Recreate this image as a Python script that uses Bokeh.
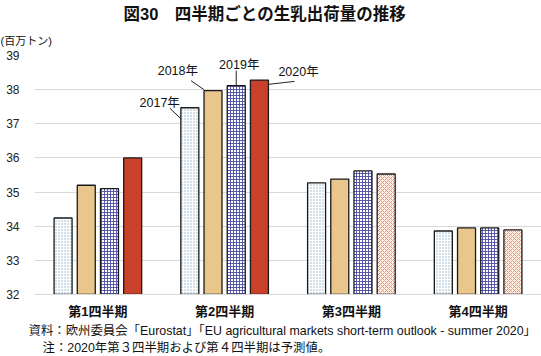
from bokeh.plotting import figure
from bokeh.models import Label, FixedTicker, Range1d, Title
from bokeh.embed import file_html
from bokeh.resources import INLINE

# ---- data ----
quarters = ["第1四半期", "第2四半期", "第3四半期", "第4四半期"]
years = ["2017年", "2018年", "2019年", "2020年"]
v2017 = [34.24, 37.47, 35.27, 33.86]
v2018 = [35.20, 37.97, 35.38, 33.95]
v2019 = [35.10, 38.12, 35.62, 33.95]
v2020 = [36.00, 38.28, 35.53, 33.89]
forecast2020 = [False, False, True, True]
y_ticks = [32, 33, 34, 35, 36, 37, 38, 39]

title_text = "図30　四半期ごとの生乳出荷量の推移"
unit_text = "(百万トン)"
note1 = "資料：欧州委員会「Eurostat」「EU agricultural markets short-term outlook - summer 2020」"
note2 = "注：2020年第３四半期および第４四半期は予測値。"

FONT = "Liberation Sans, Noto Sans CJK JP"

# ---- layout helpers ----
offsets = [-0.2745, -0.0915, 0.0915, 0.2745]
bw = 0.142
px = 1 / 126.75   # data units per pixel (x)
py = 1 / 34.3     # data units per pixel (y)

p = figure(width=541, height=356, x_range=Range1d(0, 4), y_range=Range1d(32, 39),
           output_backend="svg", toolbar_location=None,
           min_border_left=34, min_border_right=0, min_border_top=54, min_border_bottom=62)
p.outline_line_color = None
p.background_fill_color = "white"
p.border_fill_color = "white"
p.xgrid.grid_line_color = None
p.ygrid.grid_line_color = "#D9D9D9"
p.ygrid.grid_line_width = 1

# main title
p.title.text = title_text
p.title.text_font = FONT
p.title.text_font_size = "16.5px"
p.title.text_font_style = "bold"
p.title.text_color = "#111111"
p.title.align = "left"
p.title.offset = 89
p.title.standoff = 4

# unit label
p.add_layout(Title(text=unit_text, text_font=FONT, text_font_size="11px",
                   text_font_style="normal", text_color="#111111",
                   align="left", offset=-34, standoff=17), "above")

p.yaxis.ticker = FixedTicker(ticks=y_ticks)
p.yaxis.axis_line_color = None
p.yaxis.major_tick_line_color = None
p.yaxis.minor_tick_line_color = None
p.yaxis.major_label_standoff = 9
p.yaxis.major_label_text_font = FONT
p.yaxis.major_label_text_font_size = "12px"
p.yaxis.major_label_text_color = "#222222"

centers = [i + 0.5 for i in range(len(quarters))]
p.xaxis.ticker = FixedTicker(ticks=centers)
p.xaxis.major_label_overrides = {c: q for c, q in zip(centers, quarters)}
p.xaxis.axis_line_color = "#D9D9D9"
p.xaxis.major_tick_line_color = None
p.xaxis.minor_tick_line_color = None
p.xaxis.major_label_standoff = 3
p.xaxis.major_label_text_font = FONT
p.xaxis.major_label_text_font_size = "13px"
p.xaxis.major_label_text_font_style = "bold"
p.xaxis.major_label_text_color = "#111111"

# notes below
p.add_layout(Title(text=note1, text_font=FONT, text_font_size="12.4px",
                   text_font_style="normal", text_color="#111111",
                   align="left", offset=-6, standoff=1), "below")
p.add_layout(Title(text=note2, text_font=FONT, text_font_size="12.4px",
                   text_font_style="normal", text_color="#111111",
                   align="left", offset=8, standoff=0), "below")

OUT = dict(line_color="#1a1a1a", line_width=1.3, bottom=32, width=bw)

def xs(j, idx=None):
    idx = range(len(quarters)) if idx is None else idx
    return [centers[i] + offsets[j] for i in idx]

# 2017: dotted
p.vbar(x=xs(0), top=v2017, fill_color="white", hatch_pattern="dot",
       hatch_color="#8FAFC4", hatch_scale=3, hatch_weight=1, **OUT)
# 2018: tan
p.vbar(x=xs(1), top=v2018, fill_color="#E9C68B", **OUT)
# 2019: blue grid
p.vbar(x=xs(2), top=v2019, fill_color="white", hatch_pattern="cross",
       hatch_color="#4C4CA8", hatch_scale=3, hatch_weight=0.9, **OUT)
# 2020: actual (solid red) and forecast (hatched salmon)
act = [i for i, f in enumerate(forecast2020) if not f]
fc = [i for i, f in enumerate(forecast2020) if f]
p.vbar(x=xs(3, act), top=[v2020[i] for i in act], fill_color="#C9412A", **OUT)
p.vbar(x=xs(3, fc), top=[v2020[i] for i in fc], fill_color="#FDF0E8",
       hatch_pattern="diagonal_cross", hatch_color="#E59272", hatch_scale=4,
       hatch_weight=0.9, **OUT)

# ---- year labels on second quarter with leader lines ----
q = 1
c = [centers[q] + o for o in offsets]
vals = [v2017[q], v2018[q], v2019[q], v2020[q]]
lab_kw = dict(text_font=FONT, text_font_size="12.5px", text_color="#111111",
              text_baseline="middle")

left17 = c[0] - bw / 2
left18 = c[1] - bw / 2
right20 = c[3] + bw / 2

p.add_layout(Label(x=left17 - 1 * px, y=vals[0] + 5 * py, text=years[0], text_align="right", **lab_kw))
p.add_layout(Label(x=left18 - 6 * px, y=vals[1] + 19.5 * py, text=years[1], text_align="right", **lab_kw))
p.add_layout(Label(x=c[2] + 3 * px, y=vals[2] + 20.5 * py, text=years[2], text_align="center", **lab_kw))
p.add_layout(Label(x=right20 + 10 * px, y=vals[3] + 7.7 * py, text=years[3], text_align="left", **lab_kw))

p.segment(x0=[left17 - 11 * px, left18 - 13 * px, c[2], right20 + 26 * px],
          y0=[vals[0] - 0.5 * py, vals[1] + 10 * py, vals[2] + 15 * py, vals[3] - 1.3 * py],
          x1=[left17, left18, c[2], right20],
          y1=[vals[0] - 11 * py, vals[1] + 1 * py, vals[2], vals[3] - 4.3 * py],
          line_color="#222222", line_width=1)

open("out.html", "w").write(file_html(p, INLINE))
